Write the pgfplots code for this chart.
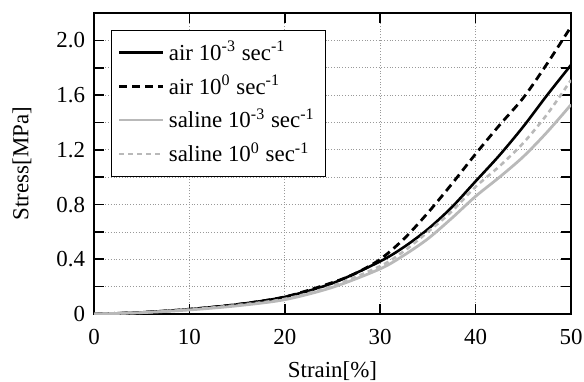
\documentclass[border=0pt]{standalone}
\usepackage{fontspec}
\setmainfont{Liberation Serif}
\usepackage{pgfplots}
\pgfplotsset{compat=1.18}
\begin{document}
\fontsize{11.5}{14}\selectfont
\begin{tikzpicture}
\begin{axis}[
  scale only axis, width=238.5bp, height=150.5bp,
  xmin=0, xmax=50, ymin=0, ymax=2.2,
  xtick={0,10,20,30,40,50},
  ytick={0,0.4,0.8,1.2,1.6,2.0},
  yticklabels={0,0.4,0.8,1.2,1.6,2.0},
  minor ytick={0.2,0.6,1.0,1.4,1.8},
  grid=both,
  major grid style={densely dotted, gray!80, line width=0.4pt},
  minor grid style={densely dotted, gray!80, line width=0.4pt},
  tick align=inside,
  major tick length=5bp, minor tick length=5bp,
  tick style={black, line width=0.8pt},
  axis line style={line width=0.8pt},
  /pgf/number format/assume math mode=true,
  xticklabel style={yshift=-3.5bp},
  yticklabel style={xshift=-0.5bp},
  xlabel={Strain[\%]}, ylabel={Stress[MPa]},
  xlabel style={at={(axis description cs:0.5,0)}, anchor=center, yshift=-28.5bp},
  ylabel style={at={(axis description cs:-0.151,0.5)}, anchor=center},
  legend cell align=left,
  legend image code/.code={\draw[#1] (0bp,0bp) -- (22bp,0bp);},
  legend style={at={(0.035,0.944)}, anchor=north west, draw=black,
    row sep=1.5bp, inner sep=3.5bp},
]
\addplot[black, line width=1.3pt, smooth] coordinates {
 (0,0) (5,0.012) (10,0.035) (15,0.07) (20,0.125) (25,0.225) (30,0.385) (32.5,0.49)
 (35,0.62) (37.5,0.78) (40,0.97) (42.5,1.16) (45,1.37) (47.5,1.6) (50,1.82)};
\addlegendentry{air 10\textsuperscript{-3} sec\textsuperscript{-1}}
\addplot[black, line width=1.4pt, dash pattern=on 4bp off 2.5bp, smooth] coordinates {
 (0,0) (5,0.012) (10,0.035) (15,0.07) (20,0.125) (25,0.23) (27.5,0.3) (30,0.40)
 (32.5,0.55) (35,0.74) (37.5,0.95) (40,1.17) (42.5,1.38) (45,1.58) (47.5,1.83) (50,2.10)};
\addlegendentry{air 10\textsuperscript{0} sec\textsuperscript{-1}}
\addplot[gray!55, line width=1.4pt, smooth] coordinates {
 (0,0) (5,0.01) (10,0.03) (15,0.06) (20,0.105) (25,0.195) (30,0.33) (32.5,0.43)
 (35,0.55) (37.5,0.7) (40,0.86) (42.5,1.0) (45,1.15) (47.5,1.33) (50,1.53)};
\addlegendentry{saline 10\textsuperscript{-3} sec\textsuperscript{-1}}
\addplot[gray!55, line width=1.3pt, dash pattern=on 2.5bp off 2bp, smooth] coordinates {
 (0,0) (5,0.01) (10,0.032) (15,0.065) (20,0.11) (25,0.205) (30,0.35) (32.5,0.46)
 (35,0.6) (37.5,0.75) (40,0.93) (42.5,1.08) (45,1.25) (47.5,1.46) (50,1.71)};
\addlegendentry{saline 10\textsuperscript{0} sec\textsuperscript{-1}}
\end{axis}
\pgfresetboundingbox
\path[use as bounding box] ([shift={(-47bp,-33.5bp)}]current axis.south west) rectangle ([shift={(6.5bp,6.5bp)}]current axis.north east);
\end{tikzpicture}
\end{document}
